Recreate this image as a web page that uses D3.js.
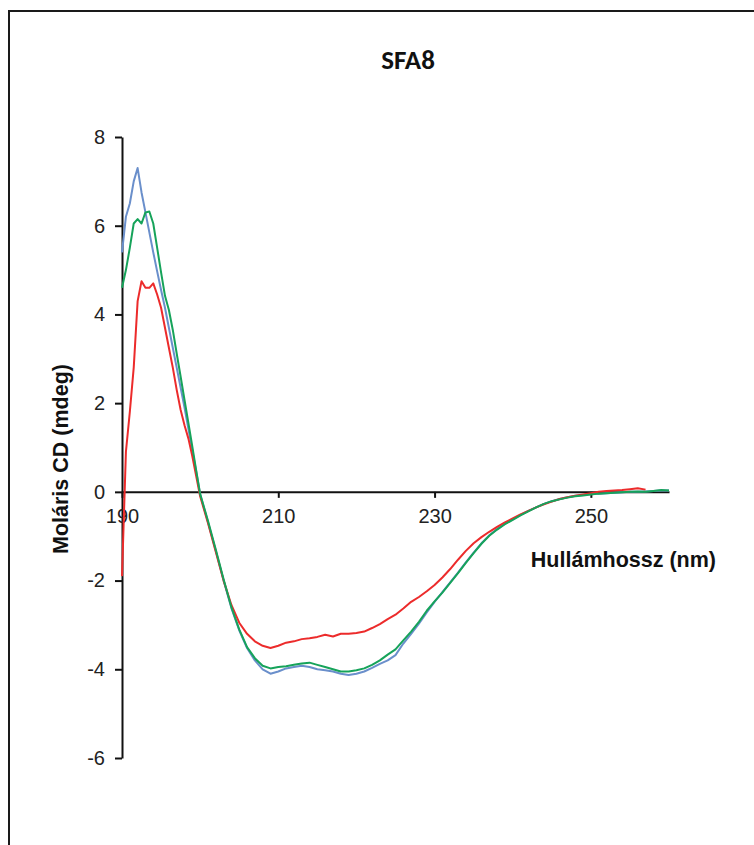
<!DOCTYPE html>
<html>
<head>
<meta charset="utf-8">
<script src="https://cdn.jsdelivr.net/npm/d3@7/dist/d3.min.js"></script>
<style>
  html, body { margin: 0; padding: 0; background: #fff; }
  svg { display: block; }
</style>
</head>
<body>
<script>
// CD spectrum of SFA8: molar CD (mdeg) against wavelength (nm), three samples.
const wavelengths = [
  190, 190.5, 191, 191.5, 192, 192.5, 193, 193.5, 194, 194.5, 195, 195.5, 196, 196.5, 197, 197.5, 198, 198.5, 199, 199.5, 200,
  201, 202, 203, 204, 205, 206, 207, 208, 209, 210, 211, 212, 213, 214, 215, 216, 217, 218, 219, 220,
  221, 222, 223, 224, 225, 226, 227, 228, 229, 230, 231, 232, 233, 234, 235, 236, 237, 238, 239, 240,
  241, 242, 243, 244, 245, 246, 247, 248, 249, 250, 251, 252, 253, 254, 255, 256, 257, 258, 259, 260
];

const blueValues = [
  5.4, 6.2, 6.5, 7.0, 7.3, 6.75, 6.3, 5.85, 5.4, 4.97, 4.55, 4.15, 3.7, 3.25, 2.8, 2.35, 1.9, 1.42, 0.93, 0.45, -0.05,
  -0.68, -1.33, -2.0, -2.62, -3.12, -3.52, -3.8, -4.0, -4.1, -4.05, -3.98, -3.95, -3.92, -3.95, -4.0, -4.02, -4.05, -4.1, -4.13, -4.1,
  -4.05, -3.97, -3.88, -3.8, -3.68, -3.42, -3.2, -2.97, -2.72, -2.48, -2.26, -2.04, -1.82, -1.59, -1.37, -1.16, -0.98, -0.84, -0.72, -0.62,
  -0.52, -0.43, -0.35, -0.27, -0.21, -0.16, -0.12, -0.09, -0.07, -0.05, -0.04, -0.03, -0.02, -0.01, 0.0, 0.0, 0.01, 0.02, 0.03, 0.03
];

const greenValues = [
  4.6, 5.0, 5.5, 6.05, 6.15, 6.05, 6.3, 6.32, 6.05, 5.5, 4.95, 4.42, 4.1, 3.65, 3.12, 2.6, 2.07, 1.55, 1.02, 0.48, -0.05,
  -0.65, -1.3, -1.97, -2.6, -3.1, -3.5, -3.75, -3.92, -3.98, -3.95, -3.93, -3.9, -3.87, -3.85, -3.9, -3.95, -4.0, -4.05, -4.05, -4.02,
  -3.98, -3.9, -3.8, -3.67, -3.55, -3.35, -3.15, -2.93, -2.68, -2.47, -2.27, -2.05, -1.83, -1.6, -1.38, -1.17, -0.99, -0.85, -0.73, -0.63,
  -0.53, -0.44, -0.35, -0.27, -0.21, -0.17, -0.13, -0.1, -0.08, -0.06, -0.04, -0.03, -0.02, -0.01, 0.0, 0.01, 0.0, 0.02, 0.04, 0.03
];

const redValues = [
  -1.9, 0.9, 1.8, 2.8, 4.3, 4.75, 4.6, 4.6, 4.7, 4.45, 4.15, 3.7, 3.25, 2.8, 2.3, 1.85, 1.5, 1.2, 0.8, 0.35, -0.1,
  -0.7, -1.35, -2.0, -2.55, -2.95, -3.2, -3.37, -3.47, -3.52, -3.47, -3.4, -3.37, -3.32, -3.3, -3.27, -3.22, -3.26, -3.2, -3.2, -3.18,
  -3.15, -3.07, -2.98, -2.87, -2.77, -2.63, -2.48, -2.37, -2.24, -2.1, -1.93, -1.74, -1.53, -1.33, -1.16, -1.02, -0.9, -0.79, -0.69, -0.6,
  -0.51, -0.43, -0.35, -0.28, -0.22, -0.16, -0.12, -0.09, -0.06, -0.03, 0.0, 0.02, 0.03, 0.04, 0.06, 0.08, 0.05, null, null, null
];

const xTickValues = [190, 210, 230, 250];
const yTickValues = [-6, -4, -2, 0, 2, 4, 6, 8];

const chartTitle = "SFA8";
const xAxisTitle = "Hullámhossz (nm)";
const yAxisTitle = "Moláris CD (mdeg)";

const series = [
  { name: "blue", values: blueValues, color: "#6a8fcb" },
  { name: "red", values: redValues, color: "#ec2b2b" },
  { name: "green", values: greenValues, color: "#16a35a" }
];

const W = 754, H = 845;
const svg = d3.select("body").append("svg").attr("width", W).attr("height", H);

// outer frame (right and bottom edges fall outside the view)
svg.append("path")
  .attr("d", "M9,860 L9,11 L770,11")
  .attr("fill", "none")
  .attr("stroke", "#1a1a1a")
  .attr("stroke-width", 2);

const x = d3.scaleLinear().domain([190, 260]).range([122, 669]);
const y = d3.scaleLinear().domain([-6, 8]).range([758, 137]);

const sans = "'Liberation Sans', Arial, sans-serif";

// title
svg.append("text")
  .attr("x", 408).attr("y", 69)
  .attr("text-anchor", "middle")
  .attr("font-family", "Carlito, 'Liberation Sans Narrow', 'Open Sans', sans-serif")
  .attr("font-weight", "bold")
  .attr("font-size", 27)
  .attr("fill", "#111")
  .text(chartTitle);

// y axis
const yAxis = svg.append("g")
  .attr("transform", `translate(${x(190)},0)`)
  .call(d3.axisLeft(y).tickValues(yTickValues).tickSize(7).tickSizeOuter(0).tickPadding(10).tickFormat(d3.format("d")));
yAxis.select(".domain").attr("stroke", "#111").attr("stroke-width", 2);
yAxis.selectAll(".tick line").attr("stroke", "#111").attr("stroke-width", 2);
yAxis.selectAll(".tick text")
  .attr("font-family", sans)
  .attr("font-size", 20)
  .attr("fill", "#222")
  .text(d => d < 0 ? "-" + Math.abs(d) : d);

// x axis at zero
const xAxis = svg.append("g")
  .attr("transform", `translate(0,${y(0)})`)
  .call(d3.axisBottom(x).tickValues(xTickValues).tickSize(6).tickSizeOuter(0).tickPadding(11).tickFormat(d3.format("d")));
xAxis.select(".domain").attr("stroke", "#111").attr("stroke-width", 2);
xAxis.selectAll(".tick line").attr("stroke", "#111").attr("stroke-width", 2);
xAxis.selectAll(".tick text")
  .attr("font-family", sans)
  .attr("font-size", 20)
  .attr("fill", "#222");

// axis titles
svg.append("text")
  .attr("x", 716).attr("y", 567)
  .attr("text-anchor", "end")
  .attr("font-family", sans)
  .attr("font-weight", "bold")
  .attr("font-size", 21.5)
  .attr("fill", "#111")
  .text(xAxisTitle);

svg.append("text")
  .attr("transform", "translate(68,459) rotate(-90)")
  .attr("text-anchor", "middle")
  .attr("font-family", sans)
  .attr("font-weight", "bold")
  .attr("font-size", 21.5)
  .attr("fill", "#111")
  .text(yAxisTitle);

// spectra
const line = d3.line()
  .defined(d => d[1] !== null)
  .x(d => x(d[0]))
  .y(d => y(d[1]));

svg.append("g").selectAll("path")
  .data(series)
  .join("path")
  .attr("d", s => line(wavelengths.map((w, i) => [w, s.values[i]])))
  .attr("fill", "none")
  .attr("stroke", s => s.color)
  .attr("stroke-width", 2)
  .attr("stroke-linejoin", "round");
</script>
</body>
</html>
